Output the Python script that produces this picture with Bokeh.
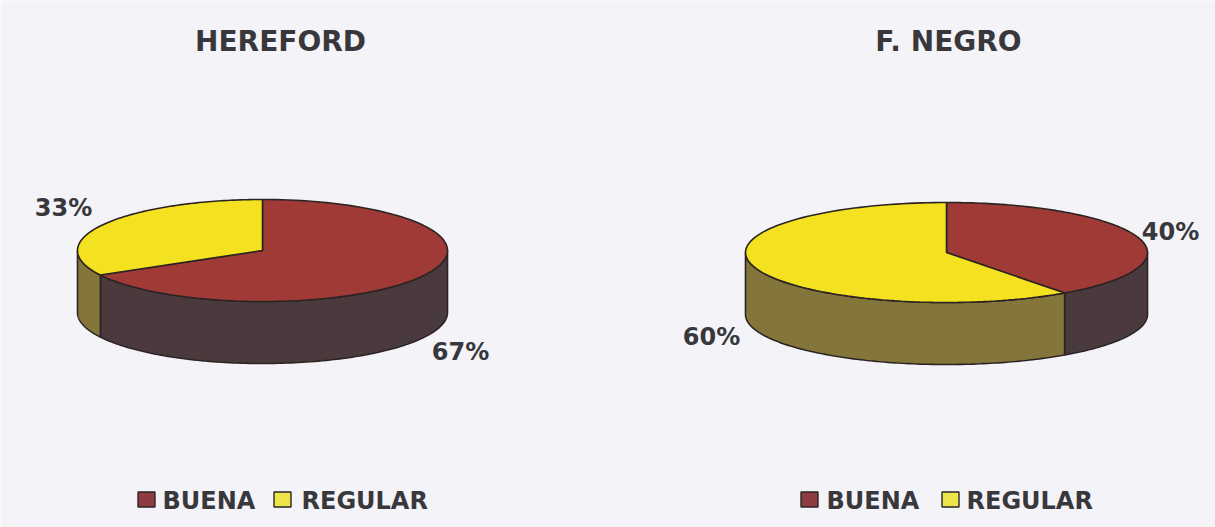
import numpy as np
from bokeh.plotting import figure
from bokeh.models import Range1d
from bokeh.core.properties import value
from bokeh.embed import file_html
from bokeh.resources import INLINE

# ---- data ----
titles = ["HEREFORD", "F. NEGRO"]
categories = ["BUENA", "REGULAR"]
hereford_pct = [67, 33]
negro_pct = [40, 60]
series = [hereford_pct, negro_pct]

# ---- styles / layout ----
top_colors = ["#9f3a37", "#f4e11f"]
side_colors = ["#4b3a3d", "#84763a"]
legend_colors = ["#8e3c40", "#ede44a"]
edge = "#2c2424"
txt = "#38383c"
bg = "#f3f3f8"
W, H = 1215, 527
FONT = "DejaVu Sans"

pies = [
    dict(cx=262, cy=250, a=185, b=51, depth=62,
         labels=[(460, 351), (63, 207)], title=(280, 41),
         legend=[(146, 162), (282, 301)], ly=499),
    dict(cx=946, cy=252, a=201, b=50, depth=62,
         labels=[(1170, 231), (711, 336)], title=(948, 41),
         legend=[(809, 826), (950, 966)], ly=499),
]

p = figure(width=W, height=H, x_range=Range1d(0, W), y_range=Range1d(H, 0),
           output_backend="svg", toolbar_location=None, min_border=0,
           x_axis_location=None, y_axis_location=None)
p.grid.visible = False
p.outline_line_color = None
p.background_fill_color = bg
p.border_fill_color = bg


def arc(cx, cy, a, b, t1, t2, n=120):
    t = np.radians(np.linspace(t1, t2, n))
    return cx + a * np.cos(t), cy - b * np.sin(t)


for pie, vals, title in zip(pies, series, titles):
    cx, cy, a, b, d = pie["cx"], pie["cy"], pie["a"], pie["b"], pie["depth"]
    start = 90.0
    spans = []
    for v in vals:
        end = start - v * 3.6
        spans.append((end, start))
        start = end
    # sides (front half only)
    sx, sy, sc = [], [], []
    for (lo, hi), col in zip(spans, side_colors):
        for k in (-1, 0, 1, -2):
            flo, fhi = 180 + 360 * k, 360 + 360 * k
            l2, h2 = max(lo, flo), min(hi, fhi)
            if h2 > l2:
                x1, y1 = arc(cx, cy, a, b, l2, h2)
                x2, y2 = arc(cx, cy + d, a, b, h2, l2)
                sx.append(list(np.concatenate([x1, x2])))
                sy.append(list(np.concatenate([y1, y2])))
                sc.append(col)
    p.patches(sx, sy, fill_color=sc, line_color=edge, line_width=1.6)
    # top slices
    tx, ty = [], []
    for lo, hi in spans:
        x1, y1 = arc(cx, cy, a, b, lo, hi)
        tx.append([cx] + list(x1))
        ty.append([cy] + list(y1))
    p.patches(tx, ty, fill_color=top_colors, line_color=edge, line_width=1.6)
    # percentage labels
    lx = [pos[0] for pos in pie["labels"]]
    ly = [pos[1] for pos in pie["labels"]]
    p.text(lx, ly, text=[f"{v}%" for v in vals], text_align="center",
           text_baseline="middle", text_font=value(FONT), text_font_style="bold",
           text_font_size="24px", text_color=txt)
    # title
    p.text([pie["title"][0]], [pie["title"][1]], text=[title], text_align="center",
           text_baseline="middle", text_font=value(FONT), text_font_style="bold",
           text_font_size="28px", text_color=txt)
    # legend
    sqx = [q[0] for q in pie["legend"]]
    p.rect(sqx, [pie["ly"]] * 2, width=17, height=15, fill_color=legend_colors,
           line_color=edge, line_width=1.4)
    p.text([q[1] for q in pie["legend"]], [pie["ly"] + 1] * 2, text=categories,
           text_align="left", text_baseline="middle", text_font=value(FONT),
           text_font_style="bold", text_font_size="24px", text_color=txt)

open("out.html", "w").write(file_html(p, INLINE))
